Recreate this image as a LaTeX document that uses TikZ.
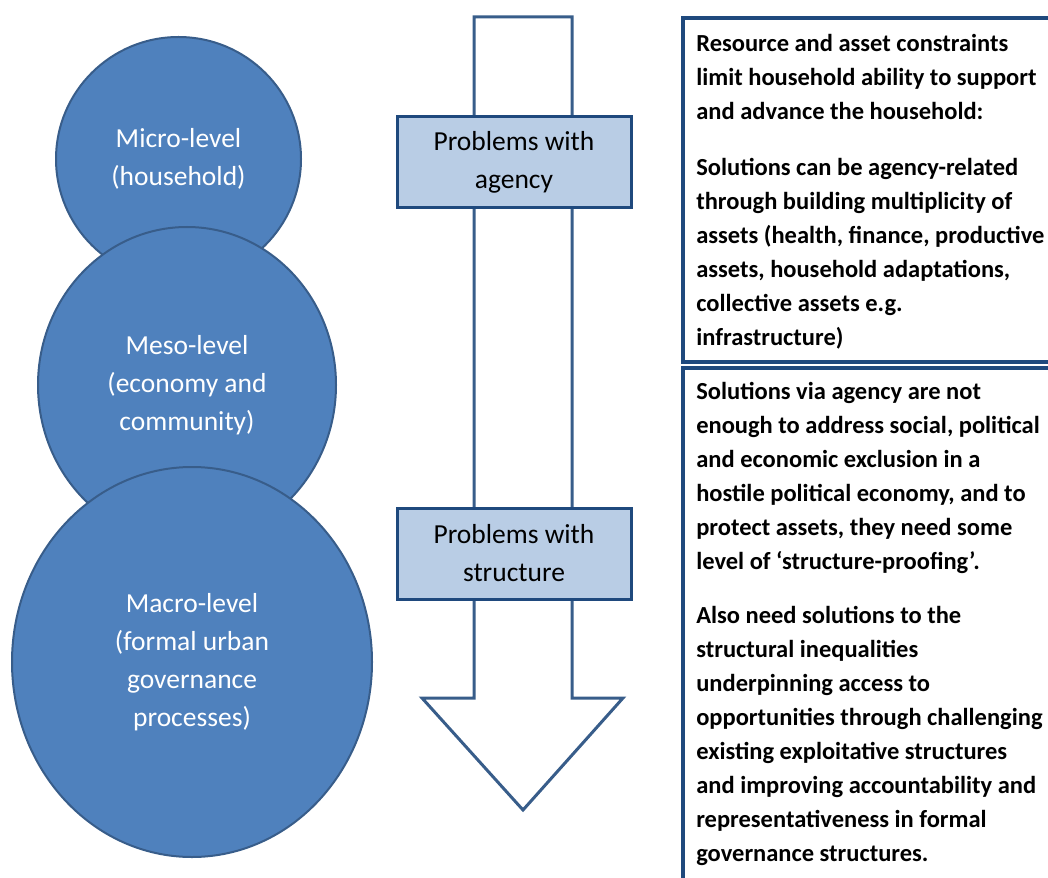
\documentclass[tikz,border=0pt]{standalone}
\usepackage{fontspec}
\setmainfont{Carlito}
\usepackage{tikz}
\usetikzlibrary{shapes.geometric}

\definecolor{levelfill}{HTML}{4F81BD}
\definecolor{leveledge}{HTML}{385D8A}
\definecolor{probfill}{HTML}{B9CDE5}
\definecolor{probedge}{HTML}{1F497D}

\begin{document}
\begin{tikzpicture}[x=1pt, y=-1pt, semithick]
	\tikzstyle{level}=[ellipse, draw=leveledge, line width=2pt, fill=levelfill, text=white, align=center, inner sep=0pt, font=\fontsize{27.5}{38}\selectfont]
	\tikzstyle{problem}=[rectangle, draw=probedge, line width=3pt, fill=probfill, align=center, minimum width=234pt, minimum height=91pt, font=\fontsize{27.5}{38}\selectfont]
	\tikzstyle{note}=[anchor=north west, align=left, inner sep=0pt, font=\bfseries\fontsize{24.5}{34}\selectfont]
	\tikzstyle{frame}=[draw=probedge, line width=3.5pt]

	\useasboundingbox (0,0) rectangle (1048,877);

	% the three levels, lower ones on top
	\node[level, minimum width=245pt, minimum height=244pt] (micro) at (178.5,159) {Micro-level\\(household)};
	\node[level, minimum width=298pt, minimum height=316pt] (meso) at (187,385) {Meso-level\\(economy and\\community)};
	\node[level, minimum width=360pt, minimum height=390pt] (macro) at (192,662) {Macro-level\\(formal urban\\governance\\processes)};

	% down arrow
	\draw[draw=leveledge, line width=3pt, fill=white] (474,17) -- (572,17) -- (572,698) -- (623,698) -- (523,810) -- (422,698) -- (474,698) -- cycle;

	\node[problem] (agency) at (514,162.5) {Problems with\\agency};
	\node[problem] (structure) at (514,553.5) {Problems with\\structure};

	% explanation boxes
	\draw[frame] (683,18) rectangle (1070,362);
	\draw[frame] (683,368) rectangle (1070,900);

	\node[note] (solagency) at (696,34) {Resource and asset constraints\\
		limit household ability to support\\
		and advance the household:\\[22pt]
		Solutions can be agency-related\\
		through building multiplicity of\\
		assets (health, finance, productive\\
		assets, household adaptations,\\
		collective assets e.g.\\
		infrastructure)};
	\node[note] (solstructure) at (696,382) {Solutions via agency are not\\
		enough to address social, political\\
		and economic exclusion in a\\
		hostile political economy, and to\\
		protect assets, they need some\\
		level of ‘structure-proofing’.\\[20pt]
		Also need solutions to the\\
		structural inequalities\\
		underpinning access to\\
		opportunities through challenging\\
		existing exploitative structures\\
		and improving accountability and\\
		representativeness in formal\\
		governance structures.};
\end{tikzpicture}
\end{document}
